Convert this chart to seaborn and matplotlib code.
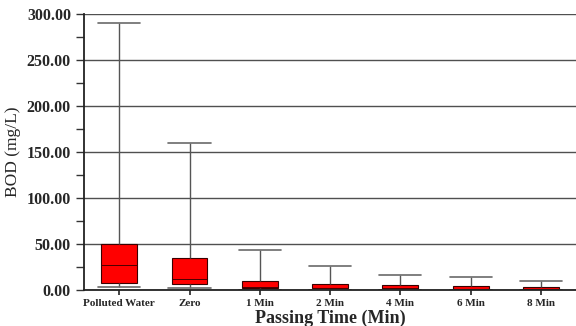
import pandas as pd
import numpy as np
import matplotlib
matplotlib.use("Agg")
import matplotlib.pyplot as plt
import seaborn as sns
from matplotlib.ticker import MultipleLocator, FormatStrFormatter

# Passing time groups and the five-number summary
groups = ["Polluted Water", "Zero", "1 Min", "2 Min", "4 Min", "6 Min", "8 Min"]
bod_min = [3.0, 1.8, 0.6, 0.5, 0.4, 0.3, 0.2]
bod_q1 = [7.6, 6.2, 2.2, 1.8, 0.9, 0.8, 0.8]
bod_median = [26.8, 12.0, 3.0, 2.5, 1.8, 1.5, 1.3]
bod_q3 = [49.6, 35.0, 9.8, 6.9, 5.4, 4.3, 3.3]
bod_max = [290.0, 159.5, 44.0, 25.7, 16.0, 14.0, 9.8]

rows = []
for i, g in enumerate(groups):
	for v in [bod_min[i], bod_q1[i], bod_median[i], bod_q3[i], bod_max[i]]:
		rows.append({"group": g, "bod": v})
df = pd.DataFrame(rows)

sns.set_style("white")
plt.rcParams["font.family"] = ["Liberation Serif", "DejaVu Serif"]

fig = plt.figure(figsize=(5.76, 3.26), dpi=100)
ax = fig.add_axes([0.146, 0.110, 0.854, 0.847])

cap_color = "#6a6a6a"
sns.boxplot(
	x="group", y="bod", data=df, order=groups, ax=ax,
	whis=(0, 100), width=0.51, color="#ff0000", saturation=1,
	boxprops={"facecolor": "#ff0000", "edgecolor": "#3a0000", "linewidth": 0.8},
	medianprops={"color": "#4a0000", "linewidth": 0.7},
	whiskerprops={"color": "#555555", "linewidth": 1.0},
	capprops={"color": cap_color, "linewidth": 1.2},
	showfliers=False,
)

# widen caps a bit beyond the boxes, like the original
for line in ax.lines:
	xd = np.asarray(line.get_xdata(), dtype=float)
	yd = np.asarray(line.get_ydata(), dtype=float)
	if len(xd) == 2 and yd[0] == yd[1] and matplotlib.colors.to_hex(line.get_color()) == cap_color:
		c = xd.mean()
		line.set_xdata([c - 0.3, c + 0.3])

ax.set_xlim(-0.5, 6.5)
ax.set_ylim(0, 300)
ax.yaxis.set_major_locator(MultipleLocator(50))
ax.yaxis.set_minor_locator(MultipleLocator(25))
ax.yaxis.set_major_formatter(FormatStrFormatter("%.2f"))
ax.grid(axis="y", which="major", color="#505050", linewidth=1.0)
ax.set_axisbelow(True)

for s in ["top", "right"]:
	ax.spines[s].set_visible(False)
for s in ["left", "bottom"]:
	ax.spines[s].set_color("#222222")
	ax.spines[s].set_linewidth(1.3)

ax.tick_params(axis="y", which="both", direction="out", length=6, width=1, color="#333333",
			   left=True, labelsize=11.5)
ax.tick_params(axis="x", direction="out", length=3.5, width=1.2, color="#222222",
			   bottom=True, labelsize=8, pad=3)
for lab in ax.get_yticklabels():
	lab.set_fontweight("bold")
for lab in ax.get_xticklabels():
	lab.set_fontweight("bold")

ax.set_ylabel("BOD (mg/L)", fontsize=12.5, labelpad=4)
ax.set_xlabel("Passing Time (Min)", fontsize=13, fontweight="bold", labelpad=1)

fig.savefig("out.png", dpi=100)
